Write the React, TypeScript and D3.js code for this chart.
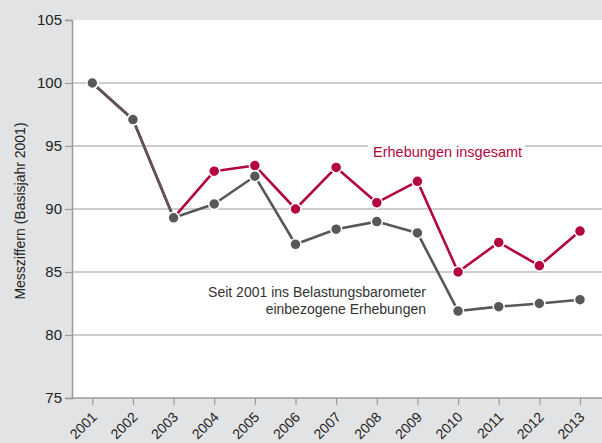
import * as React from 'react';
import * as d3 from 'd3';

const years = [2001, 2002, 2003, 2004, 2005, 2006, 2007, 2008, 2009, 2010, 2011, 2012, 2013];
const totalValues = [100, 97.1, 89.3, 93.0, 93.45, 90.0, 93.3, 90.5, 92.2, 85.0, 87.35, 85.5, 88.25];
const baseValues = [100, 97.1, 89.3, 90.4, 92.6, 87.2, 88.4, 89.0, 88.1, 81.9, 82.25, 82.5, 82.8];
const yTicks = [75, 80, 85, 90, 95, 100, 105];
const gridTicks = [80, 85, 90, 95, 100];

const width = 602;
const height = 443;
const margin = { top: 20, right: 0, bottom: 45, left: 72 };
const font = '"Liberation Sans", Arial, Helvetica, sans-serif';
const red = '#b3063e';
const grey = '#58585a';
const axisColor = '#9b9b9b';

export default function App() {
  const ref = React.useRef<SVGSVGElement>(null);

  React.useEffect(() => {
    document.body.style.margin = '0';
    const svg = d3.select(ref.current);
    svg.selectAll('*').remove();

    const innerWidth = width - margin.left - margin.right;
    const innerHeight = height - margin.top - margin.bottom;

    const x = d3.scaleLinear().domain([2001, 2013]).range([20.3, 508]);
    const y = d3.scaleLinear().domain([75, 105]).range([innerHeight, 0]);

    svg.append('rect').attr('width', width).attr('height', height).attr('fill', '#e2e3e4');

    const g = svg.append('g').attr('transform', `translate(${margin.left},${margin.top})`);

    g.append('rect').attr('width', innerWidth).attr('height', innerHeight).attr('fill', 'white');

    // gridlines
    g.append('g').selectAll('line')
      .data(gridTicks)
      .enter().append('line')
      .attr('x1', 0).attr('x2', innerWidth)
      .attr('y1', d => y(d)).attr('y2', d => y(d))
      .attr('stroke', axisColor).attr('stroke-width', 1.2);

    // y axis
    const yAxis = g.append('g')
      .call(d3.axisLeft(y).tickValues(yTicks).tickSize(7).tickPadding(3));
    yAxis.select('.domain').attr('stroke', axisColor).attr('stroke-width', 1.5);
    yAxis.selectAll('.tick line').attr('stroke', axisColor).attr('stroke-width', 1.2);
    yAxis.selectAll('.tick text')
      .attr('fill', '#222').style('font-family', font).style('font-size', '15px');

    // x axis
    const xAxis = g.append('g')
      .attr('transform', `translate(0,${innerHeight})`)
      .call(d3.axisBottom(x).tickValues(years).tickSize(7).tickFormat(d3.format('d')));
    xAxis.select('.domain').attr('d', `M0,0H${innerWidth}`).attr('stroke', axisColor).attr('stroke-width', 1.5);
    xAxis.selectAll('.tick line').attr('stroke', axisColor).attr('stroke-width', 1.2);
    xAxis.selectAll('.tick text')
      .attr('fill', '#222')
      .attr('y', 0).attr('dy', 0)
      .attr('transform', 'translate(5,20) rotate(-45)')
      .style('text-anchor', 'end')
      .style('font-family', font).style('font-size', '14px');

    // y axis label
    g.append('text')
      .attr('transform', 'rotate(-90)')
      .attr('x', -(211 - margin.top)).attr('y', -47)
      .attr('text-anchor', 'middle')
      .attr('fill', '#222')
      .style('font-family', font).style('font-size', '14px')
      .text('Messziffern (Basisjahr 2001)');

    // label for total series, masking gridline
    g.append('rect')
      .attr('x', 368 - margin.left).attr('y', y(95) - 2)
      .attr('width', 157).attr('height', 4).attr('fill', 'white');
    g.append('text')
      .attr('x', 373 - margin.left).attr('y', 157 - margin.top)
      .attr('fill', red)
      .style('font-family', font).style('font-size', '14.5px')
      .text('Erhebungen insgesamt');

    const baseLabel = g.append('text')
      .attr('text-anchor', 'end')
      .attr('fill', '#333')
      .style('font-family', font).style('font-size', '14px');
    baseLabel.append('tspan').attr('x', 426 - margin.left).attr('y', 297 - margin.top)
      .text('Seit 2001 ins Belastungsbarometer');
    baseLabel.append('tspan').attr('x', 426 - margin.left).attr('y', 314 - margin.top)
      .text('einbezogene Erhebungen');

    const line = d3.line<number>()
      .x((d, i) => x(years[i]))
      .y(d => y(d));

    const series = [
      { values: totalValues, color: red },
      { values: baseValues, color: grey },
    ];

    series.forEach(s => {
      g.append('path')
        .attr('d', line(s.values))
        .attr('fill', 'none')
        .attr('stroke', s.color)
        .attr('stroke-width', 2.6)
        .attr('stroke-linejoin', 'round');
    });

    series.forEach(s => {
      g.append('g').selectAll('circle')
        .data(s.values)
        .enter().append('circle')
        .attr('cx', (d, i) => x(years[i]))
        .attr('cy', d => y(d))
        .attr('r', 5.5)
        .attr('fill', s.color)
        .attr('stroke', 'white')
        .attr('stroke-width', 1.5);
    });
  }, []);

  return <svg ref={ref} width={width} height={height} style={{ display: 'block' }} />;
}
